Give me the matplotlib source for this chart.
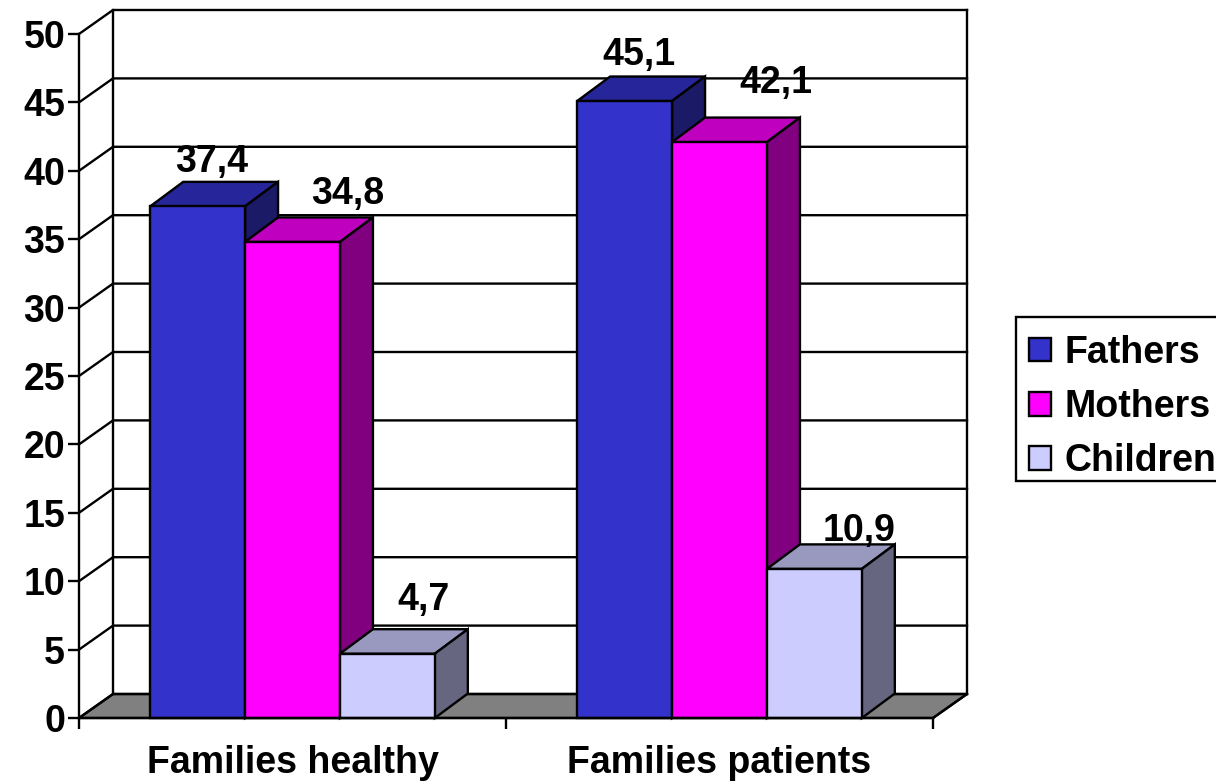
import matplotlib
matplotlib.use('Agg')
import matplotlib.pyplot as plt
from matplotlib.patches import Patch, Rectangle

groups = ['Families healthy', 'Families patients']
series_names = ['Fathers', 'Mothers', 'Children']
fathers = [37.4, 45.1]
mothers = [34.8, 42.1]
children = [4.7, 10.9]
value_labels = [['37,4', '45,1'], ['34,8', '42,1'], ['4,7', '10,9']]
yticks = [0, 5, 10, 15, 20, 25, 30, 35, 40, 45, 50]

# front, top, side shades of each series
colors = [('#3333CC', '#26269A', '#1A1A66'),
          ('#FF00FF', '#BF00BF', '#800080'),
          ('#CCCCFF', '#9999BF', '#666680')]

# nudges of the value labels in pixels from the bar's top centre
label_dx = [[14, 14], [55, 56], [36, 45]]
label_dy = [[34, 36], [38, 49], [44, 28]]

W, H = 1216, 783
plt.rcParams['font.family'] = ['Liberation Sans', 'DejaVu Sans']
plt.rcParams['font.weight'] = 'bold'
FS = 27
fig = plt.figure(figsize=(W / 100, H / 100), dpi=100)
ax = fig.add_axes([79 / W, (H - 718) / H, (933 - 79) / W, (718 - 34) / H])
ax.set_xlim(0, 2)
ax.set_ylim(0, 50)
ax.patch.set_visible(False)

# pixels to data units for the fake depth
xu = 2 / (933 - 79)
yu = 50 / (718 - 34)
wall_dx, wall_dy = 34 * xu, 24 * yu
bar_dx, bar_dy = 33 * xu, 24.5 * yu
lw = 1.7

# back wall + side wall + floor
ax.fill([0, wall_dx, 2 + wall_dx, 2], [0, wall_dy, wall_dy, 0], fc='#808080', ec='k', lw=lw, zorder=1, clip_on=False)
for t in yticks:
    ax.plot([0, wall_dx, 2 + wall_dx], [t, t + wall_dy, t + wall_dy], color='k', lw=lw, zorder=1.5, clip_on=False)
ax.plot([wall_dx, wall_dx], [wall_dy, 50 + wall_dy], color='k', lw=lw, zorder=1.5, clip_on=False)
ax.plot([2 + wall_dx, 2 + wall_dx], [wall_dy, 50 + wall_dy], color='k', lw=lw, zorder=1.5, clip_on=False)
ax.plot([2, 2 + wall_dx], [0, wall_dy], color='k', lw=lw, zorder=1.5, clip_on=False)

bw = 1 / 4.5
z = 2
for i, vals in enumerate([fathers, mothers, children]):
    front, top, side = colors[i]
    for g, v in enumerate(vals):
        x0 = g + 1 / 6 + i * bw
        ax.fill([x0, x0 + bar_dx, x0 + bw + bar_dx, x0 + bw], [v, v + bar_dy, v + bar_dy, v],
                fc=top, ec='k', lw=lw, zorder=z, clip_on=False)
        ax.fill([x0 + bw, x0 + bw + bar_dx, x0 + bw + bar_dx, x0 + bw], [0, bar_dy, v + bar_dy, v],
                fc=side, ec='k', lw=lw, zorder=z, clip_on=False)
        ax.bar(x0, v, bw, align='edge', color=front, edgecolor='k', lw=lw, zorder=z + 0.1, clip_on=False)
        ax.annotate(value_labels[i][g], (x0 + bw / 2, v), xytext=(label_dx[i][g] * 0.72, label_dy[i][g] * 0.72),
                    textcoords='offset points', ha='center', va='baseline', fontsize=FS, fontweight='bold',
                    color='k', zorder=10)
        z += 1

for s in ['top', 'right']:
    ax.spines[s].set_visible(False)
for s in ['left', 'bottom']:
    ax.spines[s].set_linewidth(lw)
    ax.spines[s].set_zorder(30)
ax.set_yticks(yticks)
ax.set_xticks([0, 1, 2])
ax.set_xticklabels([])
ax.set_xticks([0.5, 1.5], minor=True)
ax.set_xticklabels(groups, minor=True, fontsize=FS, fontweight='bold')
ax.tick_params(axis='y', length=8, width=lw, pad=2, labelsize=FS)
ax.tick_params(axis='x', which='major', length=8, width=lw)
ax.tick_params(axis='x', which='minor', length=0, pad=19.5)

# legend box is drawn by hand, the entries sit lower in it than a legend frame allows
fig.add_artist(Rectangle((1016 / W, (H - 481) / H), 230 / W, 164 / H, transform=fig.transFigure,
                         fc='white', ec='k', lw=lw, zorder=-1, clip_on=False))
handles = [Patch(fc=c[0], ec='k', lw=lw) for c in colors]
leg = ax.legend(handles, series_names, loc='upper left', bbox_to_anchor=(1016 / W, (H - 322) / H),
                bbox_transform=fig.transFigure, borderaxespad=0, fontsize=FS, frameon=False,
                handlelength=0.6, handleheight=0.6, handletextpad=0.35, labelspacing=0.49,
                borderpad=0.34)

fig.savefig('out.png', dpi=100)
